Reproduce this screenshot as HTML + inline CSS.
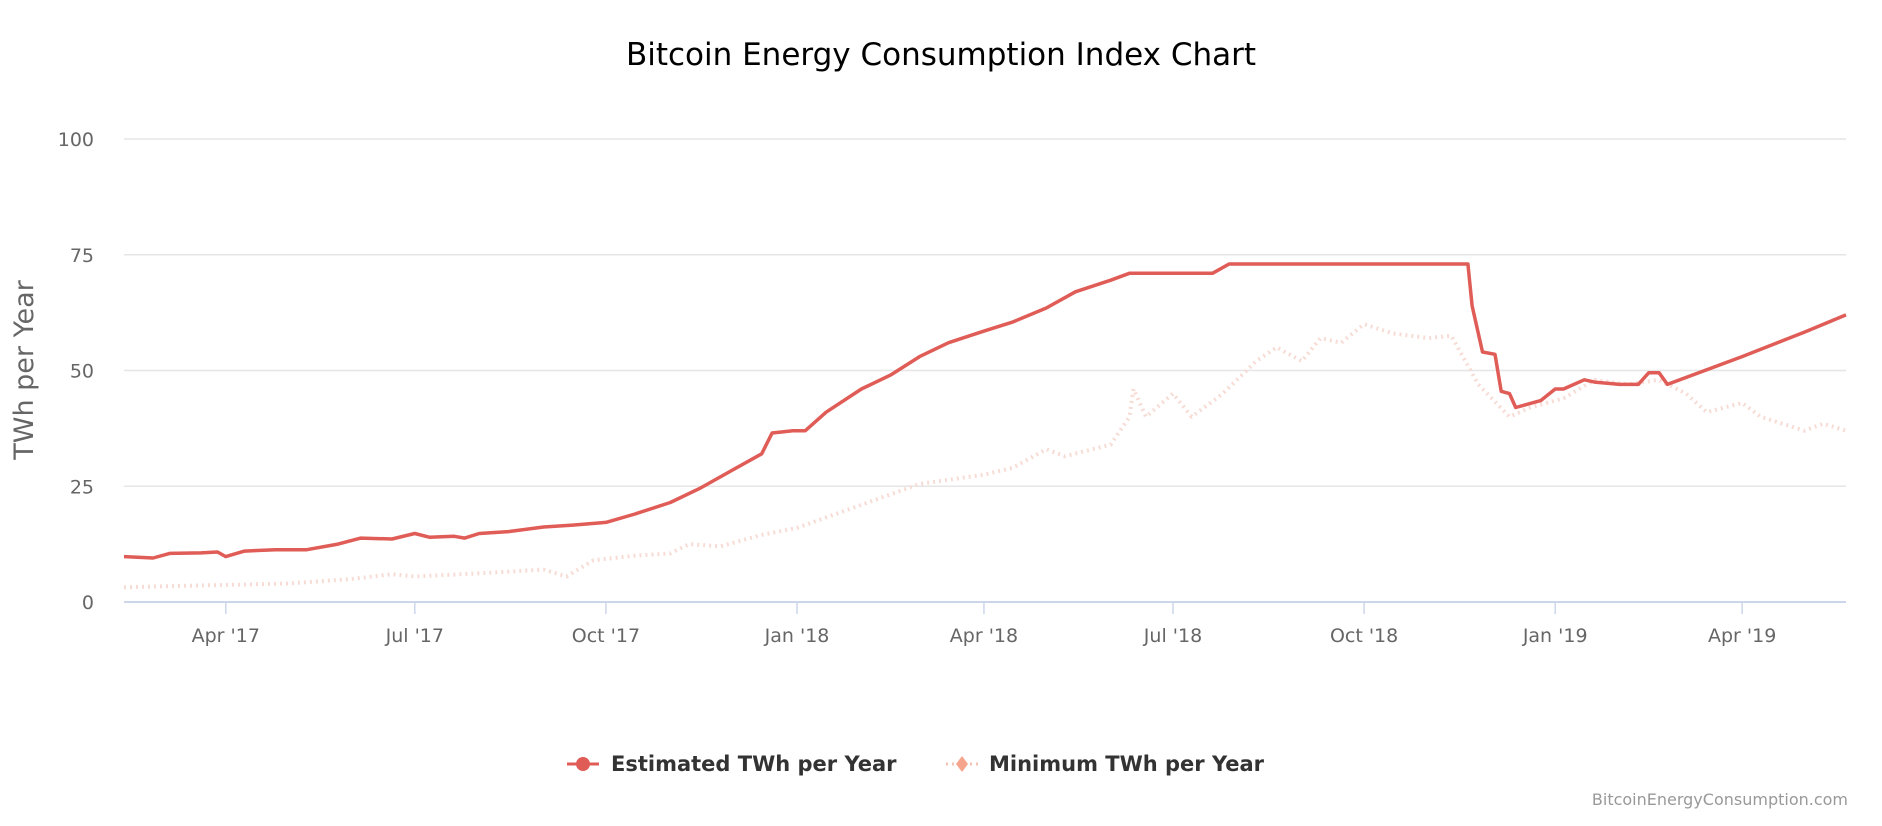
<!DOCTYPE html>
<html><head><meta charset="utf-8"><style>
body{margin:0;background:#fff;font-family:"DejaVu Sans","Liberation Sans",sans-serif;}
svg{display:block}
</style></head><body>
<svg id="chart" width="1882" height="826" viewBox="0 0 1882 826">
<text x="941" y="65" text-anchor="middle" font-size="31" fill="#000">Bitcoin Energy Consumption Index Chart</text>
<g id="grid"></g>
<g id="series"></g>
<text transform="translate(33,370) rotate(-90)" text-anchor="middle" font-size="27" fill="#666">TWh per Year</text>
<g>
<g>
<line x1="567" y1="764" x2="599" y2="764" stroke="#e05c57" stroke-width="3"/>
<circle cx="583" cy="764" r="7" fill="#e05c57"/>
<text x="611" y="771" font-size="21" font-weight="bold" fill="#333">Estimated TWh per Year</text></g>
<g>
<line x1="946" y1="764" x2="978" y2="764" stroke="#f6c4b5" stroke-width="3" stroke-dasharray="2,4"/>
<path d="M962 756 L968 764 L962 772 L956 764Z" fill="#f5a58d"/>
<text x="989" y="771" font-size="21" font-weight="bold" fill="#333">Minimum TWh per Year</text></g>
</g>
<text x="1848" y="805" text-anchor="end" font-size="16" fill="#999">BitcoinEnergyConsumption.com</text>
</svg>
<script>
const yTicks=[0,25,50,75,100];
const xTickLabels=["Apr '17","Jul '17","Oct '17","Jan '18","Apr '18","Jul '18","Oct '18","Jan '19","Apr '19"];
const xTickDates=["2017-04-01","2017-07-01","2017-10-01","2018-01-01","2018-04-01","2018-07-01","2018-10-01","2019-01-01","2019-04-01"];
const estDates=["2017-02-11","2017-02-25","2017-03-05","2017-03-20","2017-03-28","2017-04-01","2017-04-10","2017-04-25","2017-05-10","2017-05-25","2017-06-05","2017-06-20","2017-07-01","2017-07-08","2017-07-20","2017-07-25","2017-08-01","2017-08-15","2017-09-01","2017-09-15","2017-10-01","2017-10-15","2017-11-01","2017-11-15","2017-12-01","2017-12-15","2017-12-20","2017-12-30","2018-01-05","2018-01-15","2018-02-01","2018-02-15","2018-03-01","2018-03-15","2018-04-01","2018-04-15","2018-05-01","2018-05-15","2018-06-01","2018-06-10","2018-07-20","2018-07-28","2018-11-20","2018-11-22","2018-11-27","2018-12-03","2018-12-06","2018-12-10","2018-12-13","2018-12-25","2019-01-01","2019-01-05","2019-01-15","2019-01-20","2019-02-01","2019-02-10","2019-02-15","2019-02-20","2019-02-24","2019-04-01","2019-05-01","2019-05-21"];
const estValues=[9.8,9.5,10.5,10.6,10.8,9.8,11,11.3,11.3,12.5,13.8,13.6,14.8,14.0,14.2,13.8,14.8,15.2,16.2,16.6,17.2,19,21.5,24.5,28.5,32,36.5,37,37,41,46,49,53,56,58.5,60.5,63.5,67,69.5,71,71,73,73,64,54,53.5,45.5,45,42,43.5,46,46,48,47.5,47,47,49.5,49.5,47,53,58.3,62];
const minDates=["2017-02-11","2017-04-01","2017-05-01","2017-06-01","2017-06-20","2017-07-01","2017-08-01","2017-09-01","2017-09-12","2017-09-25","2017-10-15","2017-11-01","2017-11-10","2017-11-25","2017-12-15","2018-01-01","2018-02-01","2018-03-01","2018-04-01","2018-04-15","2018-05-01","2018-05-10","2018-06-01","2018-06-10","2018-06-12","2018-06-18","2018-07-01","2018-07-10","2018-07-25","2018-08-10","2018-08-20","2018-09-01","2018-09-10","2018-09-20","2018-10-01","2018-10-15","2018-11-01","2018-11-12","2018-11-25","2018-12-10","2018-12-20","2019-01-05","2019-01-20","2019-02-05","2019-02-20","2019-03-05","2019-03-15","2019-04-01","2019-04-10","2019-05-01","2019-05-10","2019-05-21"];
const minValues=[3.2,3.7,4,5,6,5.5,6.2,7,5.5,9,10,10.5,12.5,12,14.5,16,21,25.5,27.5,29,33,31.5,34,40,46,40,45,40,45,52,55,52,57,56,60,58,57,57.5,47,40,42,44,48,47,48,45,41,43,40,37,38.5,37];

const NS="http://www.w3.org/2000/svg";
const L=124,R=1846,T=139,B=602;
const d0=Date.UTC(2017,1,11),d1=Date.UTC(2019,4,21);
function t(s){const p=s.split('-');return Date.UTC(+p[0],+p[1]-1,+p[2]);}
function xs(s){return L+(t(s)-d0)/(d1-d0)*(R-L);}
function ys(v){return B-v/100*(B-T);}
function mk(tag,attrs,parent){const e=document.createElementNS(NS,tag);for(const k in attrs)e.setAttribute(k,attrs[k]);parent.appendChild(e);return e;}
const grid=document.getElementById('grid');
yTicks.forEach(v=>{
  const ln=mk('line',{x1:L,x2:R,y1:ys(v),y2:ys(v),stroke:v===0?'#ccd6eb':'#e6e6e6','stroke-width':v===0?2:1.5},grid);
  
  
  const tx=mk('text',{x:94,y:ys(v)+7,'text-anchor':'end','font-size':19,fill:'#666'},grid);
  tx.textContent=v;
  
  
});
xTickDates.forEach((d,i)=>{
  const x=xs(d);
  const tk=mk('line',{x1:x,x2:x,y1:B,y2:B+12,stroke:'#ccd6eb','stroke-width':1.5},grid);
  
  
  const tx=mk('text',{x:x,y:B+40,'text-anchor':'middle','font-size':19,fill:'#666'},grid);
  tx.textContent=xTickLabels[i];
  
  
});
const sg=document.getElementById('series');
function path(dates,vals){return dates.map((d,i)=>(i?'L':'M')+xs(d).toFixed(1)+' '+ys(vals[i]).toFixed(1)).join(' ');}
const pm=mk('path',{d:path(minDates,minValues),fill:'none',stroke:'#f7dcd5','stroke-width':4,'stroke-dasharray':'2,4','stroke-linejoin':'round'},sg);


const pe=mk('path',{d:path(estDates,estValues),fill:'none',stroke:'#e05c57','stroke-width':3.5,'stroke-linejoin':'round'},sg);


</script>
</body></html>
